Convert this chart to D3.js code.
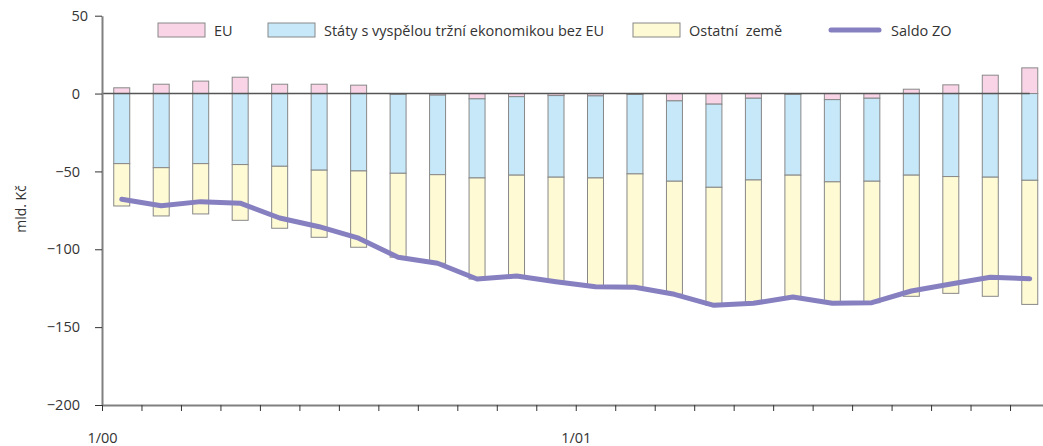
<!DOCTYPE html>
<meta charset="utf-8">
<style>
body { margin: 0; background: #fff; }
svg text { font-family: "Open Sans", sans-serif; fill: #333; }
.axis path { stroke: #808080; stroke-width: 2px; }
.axis line { stroke: #333; }
.axis text { font-size: 14.5px; }
.legend text { font-size: 14.5px; }
.bar { stroke: #888; stroke-width: 1px; }
.saldo { fill: none; stroke: #8680c0; stroke-width: 5px; stroke-linejoin: round; stroke-linecap: round; }
</style>
<body>
<svg id="svg" width="1043" height="446"></svg>
<script src="https://cdnjs.cloudflare.com/ajax/libs/d3/7.8.5/d3.min.js"></script>
<script>

// months 1/00 .. 12/01
var months = d3.range(24);
var xLabels = {0: "1/00", 12: "1/01"};

var seriesNames = ["EU", "Státy s vyspělou tržní ekonomikou bez EU", "Ostatní  země"];
var colors = ["#f9d4e6", "#c6e8f9", "#fefad4"];

var eu = [3.7, 6.0, 8.0, 10.5, 6.0, 6.0, 5.4, -0.5, -1.0, -3.4, -2.0, -1.3,
          -1.5, -0.6, -4.7, -6.8, -3.0, -0.5, -3.9, -3.0, 2.8, 5.6, 11.8, 16.5];
var vyspele = [-45.0, -47.6, -45.0, -45.6, -46.7, -49.2, -49.7, -50.7, -51.1, -50.8, -50.4, -52.4,
               -52.7, -51.0, -51.6, -53.4, -52.5, -51.9, -52.8, -53.3, -52.4, -53.3, -53.7, -55.7];
var ostatni = [-27.2, -31.0, -32.3, -35.8, -39.8, -43.1, -49.0, -53.9, -56.9, -64.9, -64.8, -67.1,
               -69.8, -72.8, -72.6, -75.8, -79.2, -78.3, -78.0, -78.0, -77.8, -75.0, -76.5, -79.7];
var saldo = [-67.9, -72.0, -69.4, -70.4, -79.9, -85.5, -92.9, -105.1, -109.0, -119.1, -117.2, -120.8,
             -124.0, -124.4, -128.9, -136.0, -134.7, -130.7, -134.7, -134.3, -126.8, -122.3, -118.0, -118.9];

var yTicks = [-200, -150, -100, -50, 0, 50];

var svg = d3.select("svg");
var mLeft = 102, mRight = 1049.5, mTop = 15.7, mBottom = 405;

var x = d3.scaleBand().domain(months).range([mLeft, mRight])
    .paddingInner(0.595).paddingOuter(0.2975);
var xt = d3.scaleLinear().domain([0, 24]).range([mLeft, mRight]);
var y = d3.scaleLinear().domain([-200, 50]).range([mBottom, mTop]);

var table = months.map(function(i) {
  return {i: i, s0: eu[i], s1: vyspele[i], s2: ostatni[i]};
});
var stack = d3.stack().keys(["s0", "s1", "s2"]).offset(d3.stackOffsetDiverging);
var layers = stack(table);

// bars
svg.selectAll(".layer")
  .data(layers)
  .enter().append("g")
    .attr("class", "layer")
    .attr("fill", function(d, k) { return colors[k]; })
  .selectAll("rect")
  .data(function(d) { return d; })
  .enter().append("rect")
    .attr("class", "bar")
    .attr("x", function(d) { return x(d.data.i); })
    .attr("width", x.bandwidth())
    .attr("y", function(d) { return y(Math.max(d[0], d[1])); })
    .attr("height", function(d) { return Math.abs(y(d[0]) - y(d[1])); });

// zero line
svg.append("line")
    .attr("x1", mLeft).attr("x2", x(23) + x.bandwidth() / 2)
    .attr("y1", y(0)).attr("y2", y(0))
    .attr("stroke", "#555").attr("stroke-width", 1.5);

// axes
var gy = svg.append("g")
    .attr("class", "axis")
    .attr("transform", "translate(" + mLeft + ",0)")
    .call(d3.axisLeft(y).tickValues(yTicks).tickSize(7).tickPadding(15).tickSizeOuter(0));
gy.selectAll(".tick text").filter(function(d) { return d === 50; }).attr("dx", 8);

svg.append("g")
    .attr("class", "axis")
    .attr("transform", "translate(0," + mBottom + ")")
    .call(d3.axisBottom(xt).tickValues(d3.range(25)).tickSize(6).tickPadding(22).tickSizeOuter(0)
      .tickFormat(function(d) { return xLabels[d] || ""; }));

svg.append("text")
    .attr("transform", "translate(26," + 209 + ") rotate(-90)")
    .attr("text-anchor", "middle")
    .style("font-size", "14px")
    .text("mld. Kč");

// saldo line
var line = d3.line()
    .x(function(d, i) { return x(i) + x.bandwidth() / 2; })
    .y(function(d) { return y(d); });
svg.append("path")
    .datum(saldo)
    .attr("class", "saldo")
    .attr("d", line);

// legend
var legend = svg.append("g").attr("class", "legend");
var legX = [158, 268, 633];
seriesNames.forEach(function(name, k) {
  legend.append("rect")
      .attr("x", legX[k]).attr("y", 23).attr("width", 47).attr("height", 14)
      .attr("fill", colors[k]).attr("stroke", "#888");
  legend.append("text")
      .attr("x", legX[k] + 56).attr("y", 36)
      .style("white-space", "pre")
      .text(name);
});
legend.append("line")
    .attr("x1", 831).attr("x2", 879).attr("y1", 30).attr("y2", 30)
    .attr("stroke", "#8680c0").attr("stroke-width", 5).attr("stroke-linecap", "round");
legend.append("text")
    .attr("x", 891).attr("y", 36)
    .text("Saldo ZO");

</script>
</body>
